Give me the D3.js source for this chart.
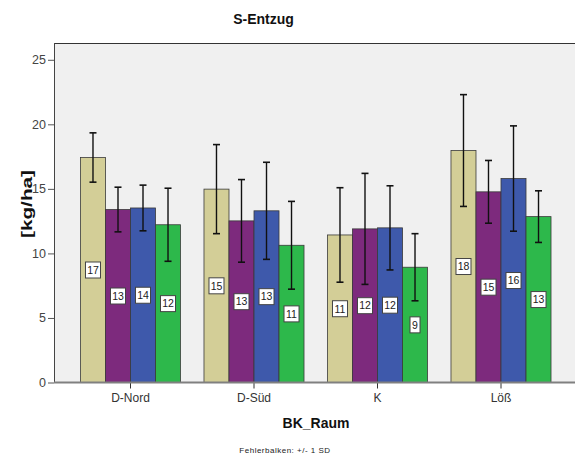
<!DOCTYPE html>
<html>
<head>
<meta charset="utf-8">
<script src="https://cdn.jsdelivr.net/npm/d3@7"></script>
<style>
  html, body { margin: 0; padding: 0; background: #fff; }
  svg { display: block; font-family: "Liberation Sans", Arial, sans-serif; }
</style>
</head>
<body>
<svg id="chart" width="575" height="457"></svg>
<script>
// ---- data ----
const categories = ["D-Nord", "D-Süd", "K", "Löß"];
const seriesNames = ["s1", "s2", "s3", "s4"];
const meanS1 = [17.43, 14.98, 11.43, 17.97];
const meanS2 = [13.40, 12.52, 11.90, 14.77];
const meanS3 = [13.52, 13.30, 11.98, 15.80];
const meanS4 = [12.22, 10.63, 8.93, 12.85];
const sdS1 = [1.91, 3.45, 3.66, 4.33];
const sdS2 = [1.73, 3.20, 4.30, 2.43];
const sdS3 = [1.77, 3.76, 3.26, 4.08];
const sdS4 = [2.83, 3.40, 2.60, 2.00];
const yTicks = [0, 5, 10, 15, 20, 25];
const colors = ["#D3CE97", "#7D2A7D", "#3E59AB", "#2DB84B"];

const means = [meanS1, meanS2, meanS3, meanS4];
const sds = [sdS1, sdS2, sdS3, sdS4];
const rows = [];
categories.forEach((c, ci) => {
  seriesNames.forEach((s, si) => {
    rows.push({cat: c, ser: s, si, mean: means[si][ci], sd: sds[si][ci]});
  });
});

const svg = d3.select("#chart");
const plotL = 54, plotT = 43, plotR = 580, plotB = 382.5;

const x = d3.scaleBand().domain(categories).range([68.75, 562.75])
  .paddingInner(0.19).paddingOuter(0.095);
const xs = d3.scaleBand().domain(seriesNames).range([0, x.bandwidth()]);
const y = d3.scaleLinear().domain([0, 26.3]).range([plotB, plotT]);

// plot background
svg.append("rect").attr("x", plotL).attr("y", plotT)
  .attr("width", plotR - plotL).attr("height", plotB - plotT)
  .attr("fill", "#F0F0F0").attr("stroke", "none");
svg.append("line").attr("x1", plotL).attr("x2", plotR).attr("y1", plotT + 0.5).attr("y2", plotT + 0.5)
  .attr("stroke", "#333").attr("stroke-width", 1);
svg.append("line").attr("x1", plotL + 0.5).attr("x2", plotL + 0.5).attr("y1", plotT).attr("y2", plotB)
  .attr("stroke", "#444").attr("stroke-width", 1);

// bars
const g = svg.append("g");
g.selectAll("rect.bar").data(rows).join("rect")
  .attr("class", "bar")
  .attr("x", d => x(d.cat) + xs(d.ser))
  .attr("y", d => y(d.mean))
  .attr("width", xs.bandwidth())
  .attr("height", d => y(0) - y(d.mean))
  .attr("fill", d => colors[d.si])
  .attr("stroke", "#3a3a3a").attr("stroke-width", 0.8);

// error bars
const eb = g.selectAll("g.eb").data(rows).join("g").attr("class", "eb");
const cx = d => x(d.cat) + xs(d.ser) + xs.bandwidth() / 2;
eb.append("line")
  .attr("x1", cx).attr("x2", cx)
  .attr("y1", d => y(d.mean + d.sd)).attr("y2", d => y(d.mean - d.sd))
  .attr("stroke", "#111").attr("stroke-width", 1.4);
[1, -1].forEach(sign => {
  eb.append("line")
    .attr("x1", d => cx(d) - 3.5).attr("x2", d => cx(d) + 3.5)
    .attr("y1", d => y(d.mean + sign * d.sd)).attr("y2", d => y(d.mean + sign * d.sd))
    .attr("stroke", "#111").attr("stroke-width", 1.6);
});

// value labels
const lab = g.selectAll("g.lab").data(rows).join("g").attr("class", "lab")
  .attr("transform", d => `translate(${cx(d)},${y(d.mean / 2)})`);
lab.each(function(d) {
  const t = String(Math.round(d.mean));
  const w = t.length === 1 ? 10 : 15;
  const sel = d3.select(this);
  sel.append("rect").attr("x", -w / 2).attr("y", -8).attr("width", w).attr("height", 16)
    .attr("fill", "#fff").attr("stroke", "#444").attr("stroke-width", 1);
  sel.append("text").attr("text-anchor", "middle").attr("dy", "0.36em")
    .attr("font-size", 10.5).attr("fill", "#222").text(t);
});

// y axis
const yAxis = d3.axisLeft(y).tickValues(yTicks).tickSize(6).tickPadding(2);
const ya = svg.append("g").attr("transform", `translate(${plotL},0)`).call(yAxis);
ya.select(".domain").remove();
ya.selectAll(".tick line").attr("stroke", "#555");
ya.selectAll(".tick text").attr("font-size", 12.5).attr("fill", "#444")
  .attr("font-family", "Liberation Sans, Arial, sans-serif");

// x axis
const xAxis = d3.axisBottom(x).tickSize(6).tickPadding(5);
const xa = svg.append("g").attr("transform", `translate(0,${plotB})`).call(xAxis);
xa.select(".domain").remove();
xa.selectAll(".tick line").attr("stroke", "#333");
xa.selectAll(".tick text").attr("font-size", 12).attr("fill", "#333")
  .attr("font-family", "Liberation Sans, Arial, sans-serif");
svg.append("line").attr("x1", plotL).attr("x2", plotR).attr("y1", plotB).attr("y2", plotB)
  .attr("stroke", "#808080").attr("stroke-width", 2);

// titles
svg.append("text").attr("x", 263.5).attr("y", 24).attr("text-anchor", "middle")
  .attr("font-size", 14).attr("font-weight", "bold").attr("fill", "#111").text("S-Entzug");
svg.append("text").attr("x", 316).attr("y", 428).attr("text-anchor", "middle")
  .attr("font-size", 14).attr("font-weight", "bold").attr("fill", "#111").text("BK_Raum");
svg.append("text").attr("transform", "translate(32,204) rotate(-90)").attr("text-anchor", "middle")
  .attr("font-size", 14).attr("font-weight", "bold").attr("fill", "#111")
  .attr("textLength", 68).attr("lengthAdjust", "spacingAndGlyphs").text("[kg/ha]");
svg.append("text").attr("x", 285).attr("y", 453).attr("text-anchor", "middle")
  .attr("font-size", 8).attr("letter-spacing", 0.5).attr("fill", "#222").text("Fehlerbalken: +/- 1 SD");
</script>
</body>
</html>
